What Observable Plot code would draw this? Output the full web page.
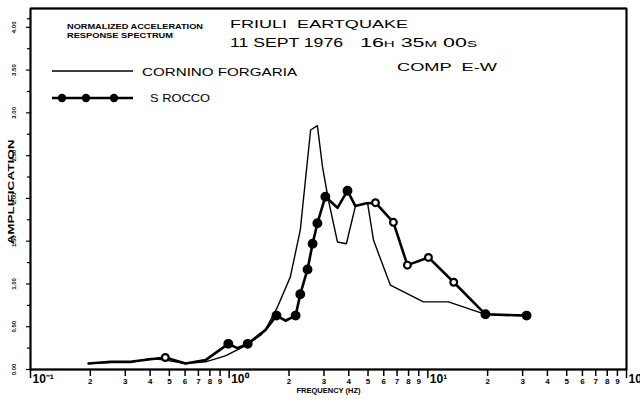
<!DOCTYPE html>
<html><head><meta charset="utf-8">
<script src="https://cdn.jsdelivr.net/npm/d3@7"></script>
<script src="https://cdn.jsdelivr.net/npm/@observablehq/plot@0.6"></script>
<style>
body{margin:0;background:#fff;}
#wrap{width:640px;height:402px;}
#wrap svg{display:block;}
</style></head><body><div id="wrap"></div>
<script>
// Cornino Forgaria (thin line)
const cornFreq = [0.196,0.253,0.318,0.402,0.477,0.603,0.760,0.957,1.21,1.44,1.52,1.75,2.03,2.28,2.57,2.78,2.95,3.16,3.51,3.89,4.32,4.97,5.33,6.48,9.50,12.7,19.5,31.4];
const cornAmp  = [0.07,0.08,0.08,0.13,0.11,0.07,0.09,0.16,0.28,0.40,0.46,0.73,1.08,1.63,2.80,2.85,2.37,1.98,1.49,1.47,1.91,1.95,1.51,0.985,0.79,0.79,0.645,0.63];
// S Rocco (thick line with markers)
const roccoFreq = [0.196,0.253,0.318,0.402,0.477,0.603,0.760,0.99,1.10,1.24,1.52,1.73,1.92,2.16,2.28,2.48,2.63,2.78,3.05,3.51,3.94,4.32,4.85,5.45,6.71,7.89,10.07,13.5,19.5,31.4];
const roccoAmp  = [0.07,0.09,0.09,0.12,0.14,0.07,0.11,0.30,0.25,0.30,0.46,0.63,0.57,0.63,0.88,1.17,1.47,1.71,2.02,1.89,2.09,1.91,1.94,1.95,1.72,1.22,1.31,1.02,0.645,0.63];
const roccoMarker = ["","","","","open","","","dot","","dot","","dot","","dot","dot","dot","dot","dot","dot","","dot","","","open","open","open","open","open","dot","dot"];
// Axes
const xDomain = [0.1, 100];
const yDomain = [0, 4.22];
const yTicks = [0,0.5,1,1.5,2,2.5,3,3.5,4];
const yTickLabels = ["0.00","0.50","1.00","1.50","2.00","2.50","3.00","3.50","4.00"];
const yMinorTicks = [0.25,0.75,1.25,1.75,2.25,2.75,3.25,3.75,4.1];
const xDecades = [0.1,1,10,100];
const xDecadeLabels = ["10⁻¹","10⁰","10¹","10²"];
const xMinorDigits = [2,3,4,5,6,7,8,9];
const xMinorTicks = xDecades.slice(0,3).flatMap(d => xMinorDigits.map(k => k*d));
const xMinorLabels = xDecades.slice(0,3).flatMap(() => xMinorDigits.map(String));
// Texts
const titleLines = ["NORMALIZED ACCELERATION", "RESPONSE SPECTRUM"];
const eventName = "FRIULI  EARTQUAKE";
const eventDate = "11 SEPT 1976";
const eventTime = [["16","H"],["35","M"],["00","S"]];
const component = "COMP  E-W";
const seriesNames = ["CORNINO FORGARIA", "S ROCCO"];
const yLabel = "AMPLIFICATION";
const xLabel = "FREQUENCY (HZ)";

const corn = cornFreq.map((f,i)=>({f, a:cornAmp[i]}));
const rocco = roccoFreq.map((f,i)=>({f, a:roccoAmp[i], m:roccoMarker[i]}));
const minorLab = xMinorTicks.map((f,i)=>({f, t:xMinorLabels[i]}));
const decadeLab = xDecades.map((f,i)=>({f, t:xDecadeLabels[i]}));
// border path around the plot area, built from the scale domains
const border = [[0,0],[0,1],[1,1],[1,0],[0,0]].map(([i,j]) => ({f:xDomain[i], a:yDomain[j]}));

const W = 640, H = 402, mL = 30, mR = 14, mT = 8, mB = 33;
const font = "'Liberation Sans', Arial, sans-serif";
const chart = Plot.plot({
  width:W, height:H,
  marginLeft:mL, marginRight:mR, marginTop:mT, marginBottom:mB,
  x:{type:"log", domain:xDomain},
  y:{domain:yDomain},
  style:{fontFamily:font, background:"white"},
  marks:[
    Plot.frame({stroke:"black", strokeWidth:1.6}),
    Plot.line(border, {x:"f", y:"a", stroke:"black", strokeWidth:1.8, strokeLinejoin:"miter"}),
    Plot.axisY({ticks:yMinorTicks, tickSize:3, tickFormat:()=>"", label:null, strokeWidth:1.2}),
    Plot.axisY({ticks:yTicks, tickSize:4, tickFormat:d=>yTickLabels[yTicks.indexOf(d)], tickRotate:-90, fontSize:6, fontWeight:"bold", tickPadding:11, label:null, strokeWidth:1.2}),
    Plot.axisX({ticks:xMinorTicks, tickSize:7, tickFormat:()=>"", label:null, strokeWidth:1.5}),
    Plot.axisX({ticks:xDecades, tickSize:9, tickFormat:()=>"", label:null, strokeWidth:1.5}),
    Plot.text(minorLab, {x:"f", text:"t", frameAnchor:"bottom", dy:14, fontSize:8, fontWeight:"bold"}),
    Plot.text(decadeLab, {x:"f", text:"t", frameAnchor:"bottom", dy:13, dx:2, fontSize:12, fontWeight:"bold", textAnchor:"start"}),
    Plot.line(corn, {x:"f", y:"a", stroke:"black", strokeWidth:1.4}),
    Plot.line(rocco, {x:"f", y:"a", stroke:"black", strokeWidth:2.6}),
    Plot.dot(rocco.filter(d=>d.m==="dot"), {x:"f", y:"a", r:4.2, fill:"black", stroke:"black"}),
    Plot.dot(rocco.filter(d=>d.m==="open"), {x:"f", y:"a", r:3.4, fill:"white", stroke:"black", strokeWidth:2.2}),
    Plot.text([xLabel], {frameAnchor:"bottom", dy:23, fontSize:7.5, fontWeight:"bold"})
  ]
});
document.getElementById("wrap").appendChild(chart);

const svg = d3.select(chart);
const g = svg.append("g").attr("font-family", font).attr("fill","black").attr("text-anchor","start");
function txt(x, y, s, size, len, weight){
  const t = g.append("text").attr("x",x).attr("y",y).attr("font-size",size)
    .attr("font-weight",weight||"normal").text(s);
  if (len) t.attr("textLength",len).attr("lengthAdjust","spacingAndGlyphs");
  return t;
}
txt(67, 29, titleLines[0], 7, 136, "bold");
txt(67, 38, titleLines[1], 7, 106, "bold");
txt(230, 28, eventName, 11, 178);
txt(230, 47, eventDate, 13.5, 113);
const t2 = g.append("text").attr("x",360).attr("y",47).attr("font-size",13.5)
  .attr("textLength",117).attr("lengthAdjust","spacingAndGlyphs");
eventTime.forEach(([n,u],i) => {
  t2.append("tspan").text((i?" ":"") + n);
  t2.append("tspan").attr("font-size",9.5).text(u);
});
txt(397, 71, component, 10.5, 100);
txt(14, 192, yLabel, 8.5, 105, "bold").attr("text-anchor","middle").attr("transform","rotate(-90,14,192)");
// legend
const lg = svg.append("g");
lg.append("line").attr("x1",52).attr("x2",133).attr("y1",71).attr("y2",71).attr("stroke","black").attr("stroke-width",1.4);
txt(142, 76, seriesNames[0], 11, 155);
lg.append("line").attr("x1",52).attr("x2",133).attr("y1",98).attr("y2",98).attr("stroke","black").attr("stroke-width",2.6);
[62,86,114].forEach(cx => lg.append("circle").attr("cx",cx).attr("cy",98).attr("r",4.2).attr("fill","black"));
txt(150, 102, seriesNames[1], 11, 60);
</script></body></html>
